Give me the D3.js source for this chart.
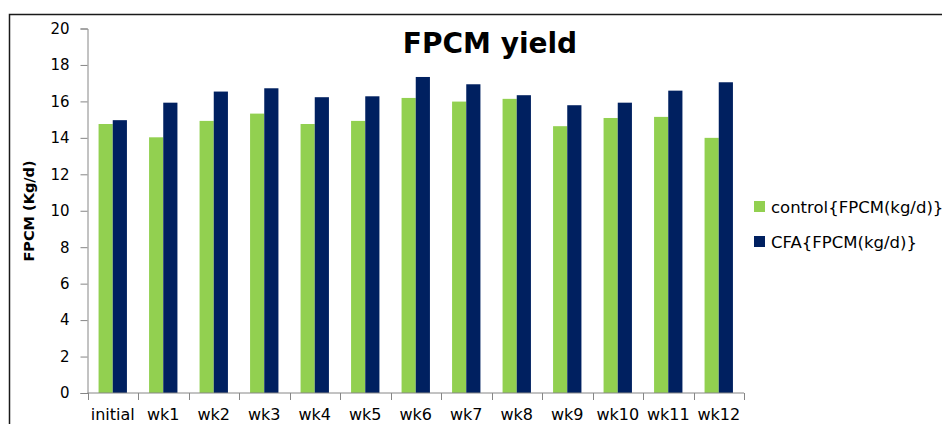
<!DOCTYPE html>
<html>
    <head>
        <meta charset="utf-8">
        <title>FPCM yield</title>
        <script src="https://d3js.org/d3.v7.min.js"></script>
        <style>
            body { margin: 0; background: #fff; }
            svg { display: block; }
        </style>
    </head>
    <body>
        <svg width="942" height="424"></svg>
        <script>
        // data
        var weeks = ["initial", "wk1", "wk2", "wk3", "wk4", "wk5", "wk6", "wk7", "wk8", "wk9", "wk10", "wk11", "wk12"];
        var control = [14.76, 14.03, 14.93, 15.33, 14.76, 14.93, 16.19, 15.99, 16.14, 14.64, 15.09, 15.15, 14.0];
        var cfa = [14.97, 15.93, 16.54, 16.72, 16.23, 16.28, 17.34, 16.94, 16.34, 15.79, 15.93, 16.59, 17.05];
        var seriesNames = ["control{FPCM(kg/d)}", "CFA{FPCM(kg/d)}"];
        var seriesColors = ["#92D050", "#002060"];
        var yTicks = [0, 2, 4, 6, 8, 10, 12, 14, 16, 18, 20];

        var svg = d3.select("svg");
        var axisColor = "#868686";

        // outer frame (only top and left edges are visible)
        svg.append("path")
            .attr("d", "M9.5,424 L9.5,14.5 L942,14.5")
            .attr("fill", "none")
            .attr("stroke", "#1a1a1a")
            .attr("stroke-width", 1.5);

        var x0 = d3.scaleBand().domain(weeks).range([87.5, 744]).paddingInner(0).paddingOuter(0);
        var x1 = d3.scaleBand().domain([0, 1]).range([0, x0.bandwidth()]).paddingInner(0).paddingOuter(0.78);
        var y = d3.scaleLinear().domain([0, 20]).range([393, 28.5]);

        // bars
        var rows = weeks.map(function(w, i){ return {week: w, vals: [control[i], cfa[i]]}; });
        var groups = svg.append("g").selectAll("g")
            .data(rows)
            .enter()
            .append("g")
            .attr("transform", d => "translate(" + x0(d.week) + ",0)");
        groups.selectAll("rect")
            .data(d => d.vals.map((v, k) => ({k: k, v: v})))
            .enter()
            .append("rect")
            .attr("x", d => x1(d.k))
            .attr("width", x1.bandwidth())
            .attr("y", d => y(d.v))
            .attr("height", d => y(0) - y(d.v))
            .attr("fill", d => seriesColors[d.k]);

        // y axis
        var yAxis = svg.append("g")
            .attr("transform", "translate(87.5,0)")
            .call(d3.axisLeft(y).tickValues(yTicks).tickSize(7).tickPadding(11));
        yAxis.selectAll("path, line").attr("stroke", axisColor);
        yAxis.selectAll("text")
            .style("font-family", "DejaVu Sans")
            .style("font-size", "15px")
            .attr("fill", "#000");

        // x axis: line, boundary ticks, labels
        var xg = svg.append("g");
        xg.append("line")
            .attr("x1", x0.range()[0]).attr("x2", x0.range()[1])
            .attr("y1", y(0)).attr("y2", y(0))
            .attr("stroke", axisColor);
        var bounds = weeks.map(w => x0(w)).concat([x0.range()[1]]);
        xg.selectAll(".xtick")
            .data(bounds)
            .enter()
            .append("line")
            .attr("x1", d => Math.round(d) + 0.5).attr("x2", d => Math.round(d) + 0.5)
            .attr("y1", y(0)).attr("y2", y(0) + 7)
            .attr("stroke", axisColor);
        xg.selectAll(".xlab")
            .data(weeks)
            .enter()
            .append("text")
            .attr("x", d => x0(d) + x0.bandwidth() / 2)
            .attr("y", 419.5)
            .attr("text-anchor", "middle")
            .style("font-family", "DejaVu Sans")
            .style("font-size", "16px")
            .text(d => d);

        // title
        svg.append("text")
            .attr("x", 490)
            .attr("y", 53)
            .attr("text-anchor", "middle")
            .style("font-family", "DejaVu Sans")
            .style("font-weight", "bold")
            .style("font-size", "28px")
            .text("FPCM yield");

        // y axis title
        svg.append("text")
            .attr("transform", "translate(34,211) rotate(-90)")
            .attr("text-anchor", "middle")
            .style("font-family", "DejaVu Sans")
            .style("font-weight", "bold")
            .style("font-size", "14.5px")
            .text("FPCM (Kg/d)");

        // legend
        var legend = svg.append("g").selectAll("g")
            .data(seriesNames)
            .enter()
            .append("g")
            .attr("transform", (d, i) => "translate(754," + (201 + i * 35) + ")");
        legend.append("rect")
            .attr("width", 11).attr("height", 11)
            .attr("fill", (d, i) => seriesColors[i]);
        legend.append("text")
            .attr("x", 17)
            .attr("y", 11.5)
            .style("font-family", "DejaVu Sans")
            .style("font-size", "16.5px")
            .text(d => d);
        </script>
    </body>
</html>
